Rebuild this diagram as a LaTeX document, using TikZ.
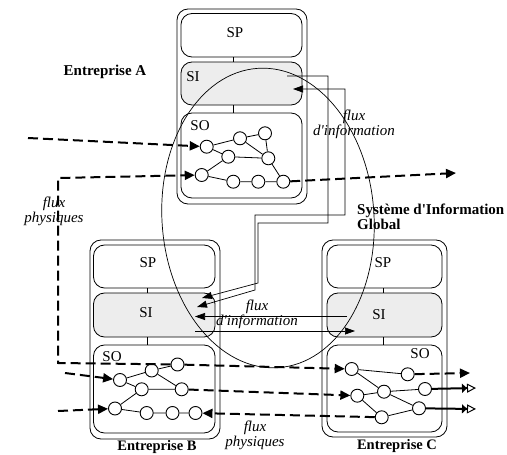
\documentclass[tikz,border=0pt]{standalone}
\usepackage{fontspec}
\setmainfont{Liberation Serif}
\usetikzlibrary{arrows.meta}
\begin{document}
\begin{tikzpicture}[x=1pt,y=-1pt,
  box/.style={draw, rounded corners=11pt, line width=0.8pt, inner sep=0pt},
  sibox/.style={box, fill=black!7},
  nd/.style={circle, draw, fill=white, minimum size=13pt, inner sep=0pt, line width=0.9pt},
  edg/.style={line width=0.8pt},
  phys/.style={line width=2pt, dash pattern=on 10pt off 5pt, -{Triangle[length=10pt,width=9pt]}},
  physo/.style={line width=2pt, -{Triangle[length=5pt,width=9pt]Triangle[open,length=9pt,width=9pt,line width=1pt]}},
  info/.style={line width=0.7pt},
  infoarr/.style={info, -{Triangle[length=10pt,width=7pt]}},
  lbl/.style={font=\fontsize{15}{15}\selectfont, inner sep=0pt},
  ital/.style={font=\fontsize{15}{15}\selectfont\itshape, align=center, inner sep=0pt},
  bld/.style={font=\fontsize{15}{14.5}\selectfont\bfseries, align=left, inner sep=0pt}
]
\useasboundingbox (0,0) rectangle (507,455);

% ---------- Entreprise A ----------
\node[box, minimum width=130pt, minimum height=195pt] (Aout) at (242,106.5) {};
\node[box, minimum width=121pt, minimum height=43.5pt] (ASP) at (241.5,35.25) {};
\node[sibox, minimum width=121pt, minimum height=43pt] (ASI) at (241.5,83.5) {};
\node[box, minimum width=121pt, minimum height=85pt] (ASO) at (241.5,155.5) {};
\coordinate (ax) at (233,0);
\draw[edg] (ASP.south -| ax) -- (ASI.north -| ax);
\draw[edg] (ASI.south -| ax) -- (ASO.north -| ax);
\node[lbl] (tASP) at (235,33) {SP};
\node[lbl] (tASI) at (193,77) {SI};
\node[lbl] (tASO) at (200,126) {SO};
\node[bld] (tA) at (105,72) {Entreprise A};

% ---------- Entreprise B ----------
\node[box, minimum width=130pt, minimum height=199pt] (Bout) at (155,339.5) {};
\node[box, minimum width=121.5pt, minimum height=43pt] (BSP) at (154.25,266.5) {};
\node[sibox, minimum width=121.5pt, minimum height=44pt] (BSI) at (154.25,315) {};
\node[box, minimum width=121.5pt, minimum height=88pt] (BSO) at (154.25,389) {};
\coordinate (bx) at (147,0);
\draw[edg] (BSP.south -| bx) -- (BSI.north -| bx);
\draw[edg] (BSI.south -| bx) -- (BSO.north -| bx);
\node[lbl] (tBSP) at (148,263) {SP};
\node[lbl] (tBSI) at (146,313) {SI};
\node[lbl] (tBSO) at (112,357) {SO};
\node[bld, font=\fontsize{14.5}{14.5}\selectfont\bfseries] (tB) at (157,447) {Entreprise B};

% ---------- Entreprise C ----------
\node[box, minimum width=125pt, minimum height=197pt] (Cout) at (384.5,338.5) {};
\node[box, minimum width=115pt, minimum height=43pt] (CSP) at (384.5,266.5) {};
\node[sibox, minimum width=115pt, minimum height=44pt] (CSI) at (384.5,315) {};
\node[box, minimum width=115pt, minimum height=87pt] (CSO) at (384.5,388.5) {};
\coordinate (cx) at (383,0);
\draw[edg] (CSP.south -| cx) -- (CSI.north -| cx);
\draw[edg] (CSI.south -| cx) -- (CSO.north -| cx);
\node[lbl] (tCSP) at (383,263) {SP};
\node[lbl] (tCSI) at (379,315) {SI};
\node[lbl] (tCSO) at (420,354) {SO};
\node[bld, font=\fontsize{14.5}{14.5}\selectfont\bfseries] (tC) at (397,446) {Entreprise C};

% ---------- Systeme d'information global ----------
\draw[line width=0.7pt, rotate around={4:(268,218)}] (268,218) ellipse [x radius=106, y radius=150];
\node[bld, anchor=west] (tSIG) at (357,217) {Système d\textquotesingle Information\\Global};

% ---------- nodes A ----------
\node[nd] (a1) at (206.7,146.7) {};
\node[nd] (a2) at (240,138.3) {};
\node[nd] (a3) at (265,133.3) {};
\node[nd] (a4) at (228.3,156.7) {};
\node[nd] (a5) at (268.3,158.3) {};
\node[nd] (a6) at (201.7,175) {};
\node[nd] (a7) at (233.3,181.7) {};
\node[nd] (a8) at (258.3,181.7) {};
\node[nd] (a9) at (283.3,181.7) {};
\draw[edg] (a1)--(a2) (a2)--(a3) (a1)--(a4) (a2)--(a5) (a3)--(a5) (a4)--(a5)
  (a4)--(a6) (a6)--(a7) (a7)--(a8) (a8)--(a9) (a5)--(a9);

% ---------- nodes B ----------
\node[nd] (b1) at (120,380) {};
\node[nd] (b2) at (151.7,370.5) {};
\node[nd] (b3) at (177.5,364.5) {};
\node[nd] (b4) at (141.7,389.3) {};
\node[nd] (b5) at (181.7,389.3) {};
\node[nd] (b6) at (115,408.5) {};
\node[nd] (b7) at (146.7,413) {};
\node[nd] (b8) at (172.5,413) {};
\node[nd] (b9) at (195.5,413) {};
\draw[edg] (b1)--(b2) (b2)--(b3) (b1)--(b4) (b2)--(b5) (b4)--(b5)
  (b4)--(b6) (b6)--(b7) (b7)--(b8) (b8)--(b9);

% ---------- nodes C ----------
\node[nd] (c1) at (351.7,369) {};
\node[nd] (c2) at (407.7,374.3) {};
\node[nd] (c3) at (357.3,395.7) {};
\node[nd] (c4) at (384,391.7) {};
\node[nd] (c5) at (425,389) {};
\node[nd] (c6) at (419,408.3) {};
\node[nd] (c7) at (381.7,417.3) {};
\draw[edg] (c1)--(c2) (c1)--(c4) (c3)--(c4) (c4)--(c5) (c4)--(c6) (c3)--(c7) (c7)--(c6);

% ---------- information flows ----------
\coordinate (p1s) at (287,76);
\coordinate (p1a) at (328,76);
\coordinate (p1b) at (328,223);
\coordinate (p1c) at (258,223);
\coordinate (p1d) at (258,283);
\coordinate (p1e) at (202,298);
\draw[infoarr] (p1s) -- (p1a) -- (p1b) -- (p1c) -- (p1d) -- (p1e);
\coordinate (p2e) at (293,89);
\coordinate (p2a) at (345,89);
\coordinate (p2b) at (345,215);
\coordinate (p2c) at (255,215);
\coordinate (p2d) at (255,290);
\coordinate (p2s) at (197,307);
\draw[info, {Triangle[length=10pt,width=7pt]}-{Triangle[length=10pt,width=7pt]}] (p2s) -- (p2d) -- (p2c) -- (p2b) -- (p2a) -- (p2e);
\coordinate (h1s) at (347,316.5);
\coordinate (h1e) at (195,316.5);
\draw[infoarr] (h1s) -- (h1e);
\coordinate (h2s) at (195,331);
\coordinate (h2e) at (355,331);
\draw[infoarr] (h2s) -- (h2e);
\node[ital] (tfi1) at (354,124) {flux\\d\textquotesingle information};
\node[ital] (tfi2) at (257,314) {flux\\d\textquotesingle information};

% ---------- physical flows ----------
\coordinate (f1s) at (28,138);
\draw[phys] (f1s) -- (a1);
\coordinate (l2) at (58,363);
\coordinate (l1) at (58,178);
\draw[phys] (b3) -- (l2) -- (l1) -- (a6);
\draw[phys] (b3) -- (c1);
\coordinate (f3e) at (456,173);
\draw[phys] (a9) -- (f3e);
\coordinate (f4a) at (65,373);
\draw[phys] (f4a) -- (b1);
\coordinate (f4b) at (58,411);
\draw[phys] (f4b) -- (b6);
\draw[phys] (c7) -- (b9);
\draw[phys] (b5) -- (c3);
\coordinate (f7a) at (470,373);
\draw[phys] (c2) -- (f7a);
\coordinate (f7b) at (476,388);
\draw[physo] (c5) -- (f7b);
\coordinate (f7c) at (476,409);
\draw[physo] (c6) -- (f7c);
\node[ital] (tfp1) at (54,211) {flux\\physiques};
\node[ital] (tfp2) at (255,435) {flux\\physiques};
\end{tikzpicture}
\end{document}
